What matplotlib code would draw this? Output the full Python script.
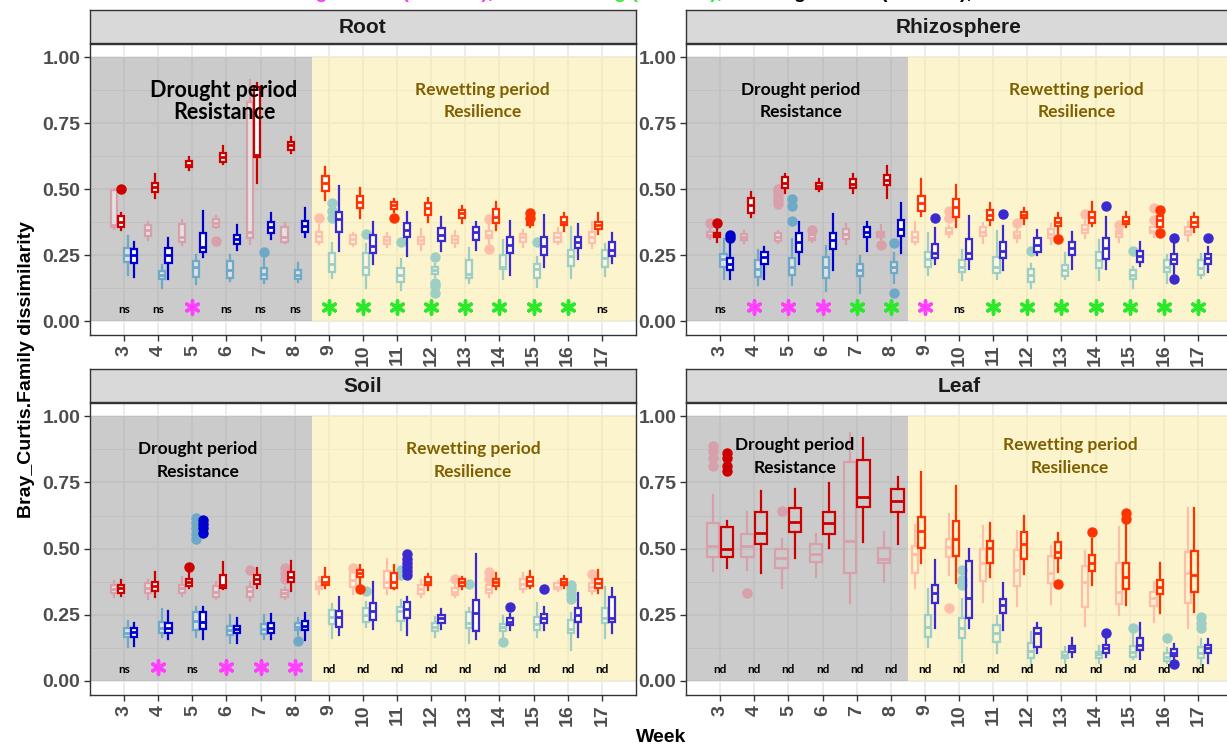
import matplotlib
matplotlib.use("Agg")
import matplotlib.pyplot as plt
from matplotlib.patches import Rectangle

plt.rcParams['font.family'] = ['Liberation Sans', 'DejaVu Sans']

W, H = 1227, 749
fig = plt.figure(figsize=(W / 100, H / 100), dpi=100)
fig.patch.set_facecolor('white')

weeks = list(range(3, 18))
week_labels = [str(w) for w in weeks]
drought_weeks = [3, 4, 5, 6, 7, 8]

# Five-number summaries per week: [lower whisker, Q1, median, Q3, upper whisker]
root_red_pale = [
    [0.347, 0.355, 0.364, 0.496, 0.50], [0.307, 0.322, 0.345, 0.364, 0.376],
    [0.288, 0.298, 0.319, 0.366, 0.383], [0.351, 0.357, 0.372, 0.386, 0.398],
    [0.292, 0.313, 0.338, 0.831, 0.915], [0.297, 0.30, 0.319, 0.355, 0.37],
    [0.292, 0.30, 0.322, 0.338, 0.364], [0.284, 0.292, 0.309, 0.326, 0.335],
    [0.279, 0.292, 0.307, 0.319, 0.335], [0.271, 0.292, 0.307, 0.319, 0.347],
    [0.282, 0.297, 0.309, 0.322, 0.342], [0.292, 0.313, 0.326, 0.342, 0.372],
    [0.279, 0.30, 0.317, 0.33, 0.345], [0.292, 0.30, 0.317, 0.335, 0.351],
    [0.275, 0.297, 0.319, 0.338, 0.376]]
root_red_pale_out = {6: [0.304], 9: [0.391], 14: [0.385, 0.274]}

root_red = [
    [0.345, 0.357, 0.376, 0.398, 0.408], [0.468, 0.49, 0.509, 0.524, 0.559],
    [0.574, 0.582, 0.593, 0.606, 0.622], [0.595, 0.604, 0.622, 0.638, 0.663],
    [0.524, 0.622, 0.629, 0.888, 0.903], [0.638, 0.65, 0.667, 0.679, 0.698],
    [0.458, 0.494, 0.524, 0.549, 0.585], [0.389, 0.427, 0.452, 0.473, 0.503],
    [0.414, 0.423, 0.439, 0.452, 0.461], [0.376, 0.402, 0.427, 0.446, 0.465],
    [0.372, 0.389, 0.408, 0.42, 0.437], [0.345, 0.372, 0.395, 0.423, 0.452],
    [0.357, 0.365, 0.372, 0.38, 0.385], [0.342, 0.364, 0.376, 0.393, 0.41],
    [0.33, 0.347, 0.364, 0.376, 0.41]]
root_red_out = {3: [0.50], 11: [0.389], 15: [0.41, 0.39]}

root_blue_pale = [
    [0.173, 0.225, 0.25, 0.275, 0.322], [0.124, 0.158, 0.174, 0.191, 0.212],
    [0.139, 0.165, 0.206, 0.229, 0.25], [0.153, 0.162, 0.193, 0.229, 0.25],
    [0.143, 0.158, 0.178, 0.20, 0.237], [0.149, 0.158, 0.174, 0.193, 0.221],
    [0.162, 0.187, 0.216, 0.256, 0.294], [0.124, 0.174, 0.206, 0.256, 0.292],
    [0.117, 0.149, 0.174, 0.20, 0.235], [0.168, 0.178, 0.193, 0.203, 0.218],
    [0.143, 0.162, 0.18, 0.231, 0.275], [0.158, 0.196, 0.206, 0.25, 0.307],
    [0.128, 0.162, 0.196, 0.216, 0.241], [0.162, 0.208, 0.246, 0.271, 0.355],
    [0.17, 0.203, 0.237, 0.271, 0.292]]
root_blue_pale_out = {7: [0.261], 9: [0.448, 0.418, 0.389], 10: [0.33], 11: [0.30],
                      12: [0.244, 0.145, 0.133, 0.105], 15: [0.30]}

root_blue = [
    [0.168, 0.221, 0.25, 0.273, 0.30], [0.158, 0.221, 0.25, 0.275, 0.316],
    [0.241, 0.261, 0.282, 0.335, 0.418], [0.271, 0.291, 0.309, 0.326, 0.364],
    [0.311, 0.335, 0.355, 0.376, 0.408], [0.319, 0.336, 0.36, 0.38, 0.427],
    [0.266, 0.338, 0.385, 0.414, 0.511], [0.218, 0.256, 0.284, 0.326, 0.376],
    [0.246, 0.317, 0.345, 0.37, 0.414], [0.266, 0.304, 0.326, 0.351, 0.393],
    [0.271, 0.307, 0.338, 0.357, 0.376], [0.174, 0.256, 0.288, 0.317, 0.38],
    [0.206, 0.25, 0.284, 0.319, 0.402], [0.234, 0.275, 0.30, 0.319, 0.367],
    [0.221, 0.246, 0.269, 0.30, 0.335]]
root_blue_out = {}

rhizo_red_pale = [
    [0.31, 0.317, 0.326, 0.338, 0.345], [0.294, 0.307, 0.319, 0.33, 0.342],
    [0.297, 0.304, 0.319, 0.332, 0.342], [0.30, 0.307, 0.315, 0.326, 0.33],
    [0.292, 0.309, 0.33, 0.347, 0.367], [0.309, 0.317, 0.33, 0.338, 0.364],
    [0.292, 0.30, 0.319, 0.338, 0.376], [0.32, 0.33, 0.338, 0.351, 0.36],
    [0.294, 0.322, 0.338, 0.355, 0.372], [0.30, 0.313, 0.326, 0.338, 0.355],
    [0.292, 0.313, 0.33, 0.347, 0.367], [0.314, 0.335, 0.347, 0.364, 0.38],
    [0.30, 0.319, 0.332, 0.342, 0.35], [0.32, 0.332, 0.342, 0.355, 0.37],
    [0.304, 0.326, 0.342, 0.355, 0.376]]
rhizo_red_pale_out = {3: [0.372], 5: [0.50, 0.49, 0.475, 0.46, 0.445], 6: [0.345],
                      8: [0.288], 10: [0.418, 0.389], 12: [0.372], 14: [0.404],
                      15: [0.364], 16: [0.427, 0.383]}

rhizo_red = [
    [0.30, 0.317, 0.326, 0.335, 0.36], [0.393, 0.41, 0.439, 0.468, 0.49],
    [0.484, 0.506, 0.524, 0.544, 0.559], [0.494, 0.499, 0.513, 0.524, 0.54],
    [0.486, 0.506, 0.521, 0.537, 0.559], [0.468, 0.515, 0.534, 0.553, 0.587],
    [0.398, 0.418, 0.446, 0.473, 0.537], [0.357, 0.393, 0.433, 0.461, 0.515],
    [0.364, 0.383, 0.402, 0.42, 0.448], [0.367, 0.389, 0.402, 0.414, 0.427],
    [0.32, 0.36, 0.376, 0.389, 0.41], [0.36, 0.372, 0.395, 0.414, 0.452],
    [0.357, 0.367, 0.38, 0.393, 0.414], [0.35, 0.357, 0.383, 0.397, 0.405],
    [0.338, 0.357, 0.376, 0.393, 0.41]]
rhizo_red_out = {3: [0.372], 13: [0.309], 16: [0.42, 0.335]}

rhizo_blue_pale = [
    [0.158, 0.206, 0.234, 0.254, 0.309], [0.136, 0.165, 0.196, 0.231, 0.271],
    [0.136, 0.174, 0.206, 0.237, 0.309], [0.115, 0.162, 0.206, 0.244, 0.284],
    [0.105, 0.17, 0.193, 0.218, 0.246], [0.145, 0.183, 0.203, 0.225, 0.256],
    [0.174, 0.206, 0.234, 0.263, 0.335], [0.155, 0.187, 0.206, 0.231, 0.269],
    [0.158, 0.183, 0.206, 0.244, 0.342], [0.124, 0.149, 0.174, 0.196, 0.216],
    [0.158, 0.17, 0.193, 0.212, 0.259], [0.155, 0.20, 0.231, 0.263, 0.307],
    [0.124, 0.158, 0.174, 0.193, 0.206], [0.145, 0.187, 0.206, 0.231, 0.25],
    [0.162, 0.174, 0.20, 0.231, 0.254]]
rhizo_blue_pale_out = {5: [0.461, 0.436, 0.38], 8: [0.297, 0.105], 12: [0.266], 15: [0.266]}

rhizo_blue = [
    [0.158, 0.193, 0.218, 0.237, 0.297], [0.158, 0.218, 0.244, 0.263, 0.282],
    [0.216, 0.263, 0.30, 0.335, 0.376], [0.193, 0.272, 0.307, 0.335, 0.405],
    [0.266, 0.317, 0.338, 0.357, 0.376], [0.259, 0.322, 0.347, 0.383, 0.448],
    [0.216, 0.237, 0.256, 0.292, 0.351], [0.199, 0.234, 0.256, 0.309, 0.398],
    [0.193, 0.237, 0.266, 0.30, 0.36], [0.25, 0.263, 0.288, 0.313, 0.345],
    [0.199, 0.25, 0.275, 0.30, 0.338], [0.199, 0.234, 0.275, 0.313, 0.395],
    [0.208, 0.225, 0.246, 0.266, 0.30], [0.17, 0.216, 0.234, 0.254, 0.30],
    [0.187, 0.216, 0.237, 0.254, 0.282]]
rhizo_blue_out = {3: [0.326, 0.315], 9: [0.389], 11: [0.404], 14: [0.436],
                  16: [0.313, 0.158], 17: [0.313]}

soil_red_pale = [
    [0.318, 0.331, 0.346, 0.362, 0.379], [0.308, 0.331, 0.35, 0.369, 0.381],
    [0.321, 0.333, 0.35, 0.362, 0.391], [0.308, 0.318, 0.337, 0.358, 0.375],
    [0.303, 0.318, 0.341, 0.356, 0.375], [0.31, 0.318, 0.331, 0.343, 0.355],
    [0.328, 0.346, 0.358, 0.375, 0.394], [0.33, 0.356, 0.381, 0.413, 0.413],
    [0.328, 0.35, 0.375, 0.416, 0.459], [0.318, 0.328, 0.346, 0.362, 0.381],
    [0.318, 0.325, 0.337, 0.35, 0.365], [0.318, 0.333, 0.346, 0.362, 0.375],
    [0.337, 0.346, 0.366, 0.384, 0.409], [0.34, 0.346, 0.356, 0.369, 0.378],
    [0.33, 0.341, 0.356, 0.371, 0.385]]
soil_red_pale_out = {7: [0.419], 8: [0.425, 0.409, 0.387], 10: [0.425], 13: [0.384],
                     14: [0.413, 0.384], 17: [0.404]}

soil_red = [
    [0.321, 0.333, 0.35, 0.362, 0.381], [0.318, 0.341, 0.358, 0.375, 0.413],
    [0.35, 0.358, 0.375, 0.387, 0.416], [0.346, 0.35, 0.362, 0.40, 0.45],
    [0.353, 0.366, 0.384, 0.40, 0.425], [0.341, 0.375, 0.394, 0.413, 0.454],
    [0.35, 0.362, 0.375, 0.391, 0.425], [0.362, 0.391, 0.406, 0.419, 0.438],
    [0.346, 0.35, 0.375, 0.409, 0.438], [0.343, 0.362, 0.375, 0.391, 0.404],
    [0.346, 0.358, 0.375, 0.387, 0.394], [0.346, 0.358, 0.375, 0.387, 0.406],
    [0.35, 0.358, 0.379, 0.391, 0.416], [0.35, 0.362, 0.375, 0.384, 0.396],
    [0.333, 0.35, 0.371, 0.384, 0.419]]
soil_red_out = {5: [0.431], 10: [0.346]}

soil_blue_pale = [
    [0.127, 0.165, 0.182, 0.199, 0.228], [0.165, 0.18, 0.199, 0.224, 0.27],
    [0.165, 0.192, 0.228, 0.262, 0.278], [0.145, 0.174, 0.192, 0.208, 0.249],
    [0.157, 0.177, 0.195, 0.215, 0.249], [0.174, 0.192, 0.205, 0.218, 0.236],
    [0.161, 0.215, 0.243, 0.268, 0.291], [0.205, 0.224, 0.249, 0.274, 0.299],
    [0.192, 0.228, 0.265, 0.28, 0.306], [0.165, 0.19, 0.205, 0.22, 0.243],
    [0.142, 0.199, 0.218, 0.262, 0.274], [0.167, 0.19, 0.203, 0.215, 0.245],
    [0.165, 0.192, 0.215, 0.243, 0.296], [0.117, 0.18, 0.195, 0.23, 0.255],
    [0.161, 0.218, 0.236, 0.274, 0.356]]
soil_blue_pale_out = {5: [0.614, 0.595, 0.576, 0.557, 0.535], 8: [0.152], 10: [0.341],
                      11: [0.419, 0.40], 13: [0.366], 14: [0.148],
                      16: [0.362, 0.346, 0.33, 0.31]}

soil_blue = [
    [0.132, 0.167, 0.186, 0.201, 0.22], [0.157, 0.18, 0.201, 0.22, 0.265],
    [0.157, 0.195, 0.224, 0.262, 0.278], [0.142, 0.18, 0.195, 0.208, 0.236],
    [0.157, 0.18, 0.199, 0.22, 0.253], [0.155, 0.192, 0.208, 0.228, 0.255],
    [0.174, 0.205, 0.24, 0.265, 0.318], [0.195, 0.23, 0.265, 0.293, 0.375],
    [0.174, 0.236, 0.27, 0.299, 0.318], [0.195, 0.22, 0.236, 0.249, 0.27],
    [0.157, 0.19, 0.255, 0.306, 0.479], [0.192, 0.211, 0.224, 0.236, 0.253],
    [0.192, 0.218, 0.236, 0.253, 0.278], [0.167, 0.224, 0.249, 0.274, 0.333],
    [0.18, 0.224, 0.236, 0.316, 0.353]]
soil_blue_out = {5: [0.608, 0.592, 0.576, 0.56], 11: [0.478, 0.462, 0.446, 0.43, 0.415, 0.40],
                 14: [0.278], 15: [0.346]}

leaf_red_pale = [
    [0.416, 0.467, 0.511, 0.597, 0.702], [0.421, 0.469, 0.511, 0.557, 0.639],
    [0.353, 0.425, 0.463, 0.497, 0.538], [0.394, 0.45, 0.479, 0.517, 0.557],
    [0.296, 0.409, 0.53, 0.828, 0.935], [0.375, 0.444, 0.459, 0.504, 0.564],
    [0.35, 0.409, 0.479, 0.509, 0.589], [0.40, 0.467, 0.507, 0.538, 0.63],
    [0.299, 0.379, 0.447, 0.497, 0.585], [0.283, 0.358, 0.419, 0.494, 0.567],
    [0.291, 0.371, 0.409, 0.472, 0.509], [0.208, 0.281, 0.375, 0.434, 0.492],
    [0.249, 0.291, 0.337, 0.447, 0.58], [0.224, 0.283, 0.312, 0.337, 0.375],
    [0.199, 0.296, 0.406, 0.488, 0.652]]
leaf_red_pale_out = {3: [0.887, 0.869, 0.844, 0.813], 4: [0.331], 5: [0.642], 10: [0.274]}

leaf_red = [
    [0.425, 0.467, 0.498, 0.58, 0.605], [0.409, 0.519, 0.56, 0.639, 0.718],
    [0.463, 0.561, 0.601, 0.655, 0.727], [0.501, 0.557, 0.595, 0.639, 0.748],
    [0.526, 0.658, 0.696, 0.836, 0.919], [0.519, 0.639, 0.68, 0.727, 0.769],
    [0.447, 0.501, 0.567, 0.62, 0.79], [0.369, 0.472, 0.538, 0.605, 0.736],
    [0.394, 0.447, 0.501, 0.528, 0.597], [0.404, 0.459, 0.517, 0.564, 0.623],
    [0.413, 0.463, 0.488, 0.526, 0.56], [0.362, 0.416, 0.444, 0.475, 0.535],
    [0.287, 0.346, 0.394, 0.447, 0.59], [0.258, 0.328, 0.356, 0.381, 0.444],
    [0.262, 0.337, 0.40, 0.491, 0.652]]
leaf_red_out = {3: [0.862, 0.844, 0.811, 0.794], 13: [0.366], 14: [0.561], 15: [0.633, 0.61]}

leaf_blue_pale = [None] * 6 + [
    [0.127, 0.165, 0.205, 0.249, 0.346], [0.073, 0.161, 0.199, 0.236, 0.308],
    [0.104, 0.148, 0.18, 0.211, 0.245], [0.048, 0.086, 0.114, 0.142, 0.186],
    [0.067, 0.086, 0.098, 0.111, 0.13], [0.067, 0.086, 0.102, 0.111, 0.132],
    [0.082, 0.089, 0.111, 0.132, 0.182], [0.067, 0.077, 0.092, 0.107, 0.123],
    [0.06, 0.086, 0.107, 0.127, 0.157]]
leaf_blue_pale_out = {10: [0.419, 0.381, 0.362], 15: [0.20], 16: [0.161], 17: [0.24, 0.22, 0.20]}

leaf_blue = [None] * 6 + [
    [0.199, 0.296, 0.333, 0.362, 0.457], [0.199, 0.236, 0.312, 0.454, 0.497],
    [0.192, 0.258, 0.287, 0.308, 0.369], [0.104, 0.13, 0.18, 0.199, 0.22],
    [0.089, 0.111, 0.123, 0.132, 0.161], [0.092, 0.107, 0.123, 0.136, 0.157],
    [0.082, 0.117, 0.136, 0.161, 0.22], [0.08, 0.094, 0.107, 0.12, 0.14],
    [0.069, 0.104, 0.123, 0.136, 0.157]]
leaf_blue_out = {14: [0.18], 16: [0.064]}

# Test outcome per week: ns / nd text, 'm' magenta star, 'g' green star
root_sig = ['ns', 'ns', 'm', 'ns', 'ns', 'ns', 'g', 'g', 'g', 'g', 'g', 'g', 'g', 'g', 'ns']
rhizo_sig = ['ns', 'm', 'm', 'm', 'g', 'g', 'm', 'ns', 'g', 'g', 'g', 'g', 'g', 'g', 'g']
soil_sig = ['ns', 'm', 'ns', 'm', 'm', 'm'] + ['nd'] * 9
leaf_sig = ['nd'] * 15

# Colours: (drought weeks, rewetting weeks)
COLORS = {
    'red_pale': ('#D8A0AA', '#FDBFA9'),
    'red': ('#CC0000', '#FF3300'),
    'blue_pale': ('#6EA9C8', '#9DCFC4'),
    'blue': ('#0000CC', '#3A2ACF'),
}
STAR = {'m': '#FF40FF', 'g': '#2BE82B'}
GREY_BG = '#999999'
YELLOW_BG = '#FBEB9B'


def px_rect(x0, y0, x1, y1):
    return [x0 / W, 1 - y1 / H, (x1 - x0) / W, (y1 - y0) / H]


def draw_panel(box_rect, strip_rect, title, series, sig, texts, leaf_fill=False):
    ax = fig.add_axes(px_rect(*box_rect))
    ax.set_xlim(2, 18)
    ax.set_ylim(-0.053, 1.05)
    ax.set_axisbelow(True)
    ax.set_yticks([0, 0.25, 0.5, 0.75, 1.0])
    ax.set_yticklabels(['0.00', '0.25', '0.50', '0.75', '1.00'])
    ax.set_yticks([0.125, 0.375, 0.625, 0.875], minor=True)
    ax.set_xticks(weeks)
    ax.set_xticklabels(week_labels, rotation=90)
    ax.grid(which='major', color='#EBEBEB', linewidth=1.3, zorder=0)
    ax.grid(which='minor', axis='y', color='#EBEBEB', linewidth=0.7, zorder=0)
    ax.tick_params(axis='both', which='major', direction='out', length=4, width=1,
                   color='#333333', labelsize=14, labelcolor='#4D4D4D', pad=3)
    ax.tick_params(axis='y', which='minor', length=0)
    for lab in ax.get_xticklabels() + ax.get_yticklabels():
        lab.set_fontweight('bold')
    for sp in ax.spines.values():
        sp.set_color('#333333')
        sp.set_linewidth(1.0)

    ax.add_patch(Rectangle((2, 0), 6.5, 1.0, facecolor=GREY_BG, alpha=0.5,
                           edgecolor='none', zorder=0.8))
    ax.add_patch(Rectangle((8.5, 0), 9.5, 1.0, facecolor=YELLOW_BG, alpha=0.5,
                           edgecolor='none', zorder=0.8))

    for i, w in enumerate(weeks):
        present = [(key, rows, outs) for key, rows, outs in series if rows[i] is not None]
        n = len(present)
        slot = 0.8 / n
        period = 0 if w in drought_weeks else 1
        for k, (key, rows, outs) in enumerate(present):
            pos = w - 0.4 + slot * (k + 0.5)
            color = COLORS[key][period]
            pale = key.endswith('pale')
            if leaf_fill:
                face = 'none'
            elif pale:
                face = (1, 1, 1, 0.45)
            else:
                face = 'white'
            lo, q1, med, q3, hi = rows[i]
            stats = [dict(whislo=lo, q1=q1, med=med, q3=q3, whishi=hi,
                          fliers=outs.get(w, []))]
            ax.bxp(stats, positions=[pos], widths=[slot * 0.9], patch_artist=True,
                   showcaps=False, manage_ticks=False, zorder=2 if pale else 3,
                   boxprops=dict(facecolor=face, edgecolor=color, linewidth=1.6),
                   whiskerprops=dict(color=color, linewidth=1.6),
                   medianprops=dict(color=color, linewidth=2.0),
                   flierprops=dict(marker='o', markerfacecolor=color,
                                   markeredgecolor=color, markersize=6.5))

        s = sig[i]
        if s in STAR:
            ax.scatter([w], [0.052], marker=(6, 2, 0), s=90, color=STAR[s],
                       linewidths=2.5, zorder=4)
        else:
            ax.text(w, 0.044, s, ha='center', va='center', fontsize=8.5,
                    fontweight='bold', family='Lato', color='black', zorder=4)

    for (x, y1, y2, l1, l2, size, col) in texts:
        ax.text(x, y1, l1, ha='center', va='center', fontsize=size, fontweight='bold',
                family='Lato', color=col, zorder=5)
        ax.text(x, y2, l2, ha='center', va='center', fontsize=size, fontweight='bold',
                family='Lato', color=col, zorder=5)

    sax = fig.add_axes(px_rect(*strip_rect))
    sax.set_facecolor('#D9D9D9')
    sax.set_xticks([])
    sax.set_yticks([])
    for sp in sax.spines.values():
        sp.set_color('#333333')
        sp.set_linewidth(1.0)
    sax.text(0.5, 0.47, title, transform=sax.transAxes, ha='center', va='center',
             fontsize=15, fontweight='bold', color='#1A1A1A')
    return ax


DRY_COL = 'black'
WET_COL = '#7F6000'

draw_panel((90, 44, 636, 335), (90, 10, 636, 43), 'Root',
           [('red_pale', root_red_pale, root_red_pale_out),
            ('red', root_red, root_red_out),
            ('blue_pale', root_blue_pale, root_blue_pale_out),
            ('blue', root_blue, root_blue_out)],
           root_sig,
           [(5.93, 0.875, 0.792, 'Drought period', 'Resistance', 15.5, DRY_COL),
            (13.5, 0.875, 0.792, 'Rewetting period', 'Resilience', 12.5, WET_COL)])

draw_panel((686, 44, 1232, 335), (686, 10, 1232, 43), 'Rhizosphere',
           [('red_pale', rhizo_red_pale, rhizo_red_pale_out),
            ('red', rhizo_red, rhizo_red_out),
            ('blue_pale', rhizo_blue_pale, rhizo_blue_pale_out),
            ('blue', rhizo_blue, rhizo_blue_out)],
           rhizo_sig,
           [(5.37, 0.875, 0.792, 'Drought period', 'Resistance', 12.5, DRY_COL),
            (13.44, 0.875, 0.792, 'Rewetting period', 'Resilience', 12.5, WET_COL)])

draw_panel((90, 403, 636, 695), (90, 369, 636, 402), 'Soil',
           [('red_pale', soil_red_pale, soil_red_pale_out),
            ('red', soil_red, soil_red_out),
            ('blue_pale', soil_blue_pale, soil_blue_pale_out),
            ('blue', soil_blue, soil_blue_out)],
           soil_sig,
           [(5.16, 0.875, 0.789, 'Drought period', 'Resistance', 12.5, DRY_COL),
            (13.23, 0.875, 0.789, 'Rewetting period', 'Resilience', 12.5, WET_COL)])

draw_panel((686, 403, 1232, 695), (686, 369, 1232, 402), 'Leaf',
           [('red_pale', leaf_red_pale, leaf_red_pale_out),
            ('red', leaf_red, leaf_red_out),
            ('blue_pale', leaf_blue_pale, leaf_blue_pale_out),
            ('blue', leaf_blue, leaf_blue_out)],
           leaf_sig,
           [(5.19, 0.891, 0.804, 'Drought period', 'Resistance', 12.5, DRY_COL),
            (13.26, 0.891, 0.804, 'Rewetting period', 'Resilience', 12.5, WET_COL)],
           leaf_fill=True)

fig.text(27 / W, 1 - 369 / H, 'Bray_Curtis.Family dissimilarity', rotation=90,
         ha='center', va='center', fontsize=14, fontweight='bold', color='black')
fig.text(661 / W, 1 - 738 / H, 'Week', ha='center', va='center', fontsize=14,
         fontweight='bold', color='black')

# Key line above the panels (sits at the top edge of the figure)
top_y = 1 + 1.5 / H
fig.text(297 / W, top_y, 'Significant (P < 0.05),', color='#FF33FF', fontsize=14,
         fontweight='bold', ha='left', va='baseline')
fig.text(520 / W, top_y, 'Recovering (P < 0.05),', color='#33EE33', fontsize=14,
         fontweight='bold', ha='left', va='baseline')
fig.text(740 / W, top_y, 'Not significant (P > 0.05), ns', color='black', fontsize=14,
         fontweight='bold', ha='left', va='baseline')

fig.savefig('out.png', dpi=100)
